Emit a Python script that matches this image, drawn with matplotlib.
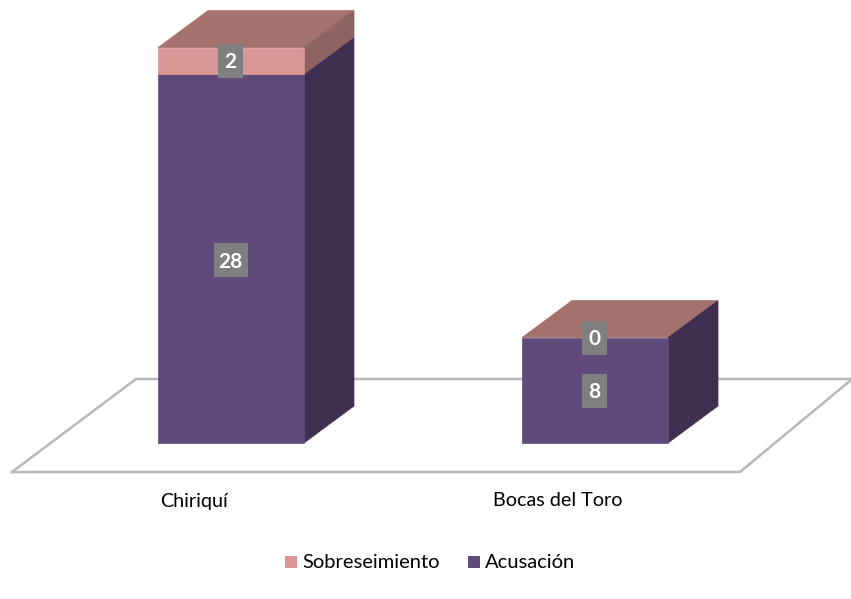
import matplotlib
matplotlib.use("Agg")
import matplotlib.pyplot as plt
from matplotlib.patches import Polygon, Rectangle

plt.rcParams['font.family'] = ['Lato', 'DejaVu Sans']

categorias = ['Chiriquí', 'Bocas del Toro']
acusacion = [28, 8]
sobreseimiento = [2, 0]

# colores
morado = '#604a7b'
morado_lado = '#3f2f51'
rosa = '#d99694'
rosa_lado = '#8e6462'
techo = '#a5716c'
gris = '#7f7f7f'
piso = '#b8b8b8'

# geometria en pixeles de la imagen
base_y = 443
unidad = 13.18
ancho = 146
dx, dy = 50, -37
izq = [158, 522]

def caja(ax, x, y0, y1, frente, lado, arriba=None):
	# cara frontal, lateral y techo de un bloque
	if arriba:
		ax.add_patch(Polygon([(x, y1), (x+ancho, y1), (x+ancho+dx, y1+dy), (x+dx, y1+dy)], fc=arriba, ec=arriba, lw=0.5, zorder=3))
	ax.add_patch(Polygon([(x+ancho, y0), (x+ancho+dx, y0+dy), (x+ancho+dx, y1+dy), (x+ancho, y1)], fc=lado, ec=lado, lw=0.5, zorder=3))
	ax.add_patch(Polygon([(x, y0), (x+ancho, y0), (x+ancho, y1), (x, y1)], fc=frente, ec=frente, lw=0.5, zorder=3))

def etiqueta(ax, xc, yc, txt):
	w = 25 + 9*(len(txt)-1)
	ax.add_patch(Rectangle((xc-w/2, yc-17), w, 34, fc=gris, ec='none', zorder=5))
	ax.text(xc, yc+1.2, txt, color='white', fontsize=15, fontweight='bold', ha='center', va='center', zorder=6)

fig = plt.figure(figsize=(8.51, 5.99), dpi=100)
ax = fig.add_axes([0, 0, 1, 1])
ax.set_xlim(0, 851)
ax.set_ylim(599, 0)
ax.axis('off')

# piso del grafico
ax.plot([12, 136, 851], [472, 379, 379], color=piso, lw=1.8, zorder=1)
ax.plot([12, 740, 851], [472, 472, 380], color=piso, lw=1.8, zorder=1)

for i in range(len(categorias)):
	x = izq[i]
	y1 = base_y - acusacion[i]*unidad
	y2 = y1 - sobreseimiento[i]*unidad
	caja(ax, x, base_y, y1, morado, morado_lado, techo if sobreseimiento[i] == 0 else None)
	if sobreseimiento[i] > 0:
		caja(ax, x, y1, y2, rosa, rosa_lado, techo)
	xc = x + ancho/2 - 0.5
	etiqueta(ax, xc, (base_y+y1)/2 + (2 if i == 0 else 1), str(acusacion[i]))
	etiqueta(ax, xc, (y1+y2)/2 + 0.5, str(sobreseimiento[i]))

# nombres de categoria
ax.text(194, 501, categorias[0], fontsize=14.2, ha='center', va='center', color='black')
ax.text(557.5, 501, categorias[1], fontsize=14.2, ha='center', va='center', color='black')

# leyenda
ax.add_patch(Rectangle((285, 556), 12, 12, fc=rosa, ec='none'))
ax.text(302, 562, 'Sobreseimiento', fontsize=14.5, va='center', color='black')
ax.add_patch(Rectangle((468, 556), 12, 12, fc=morado, ec='none'))
ax.text(485, 562, 'Acusación', fontsize=14.5, va='center', color='black')

fig.savefig('out.png', dpi=100)
